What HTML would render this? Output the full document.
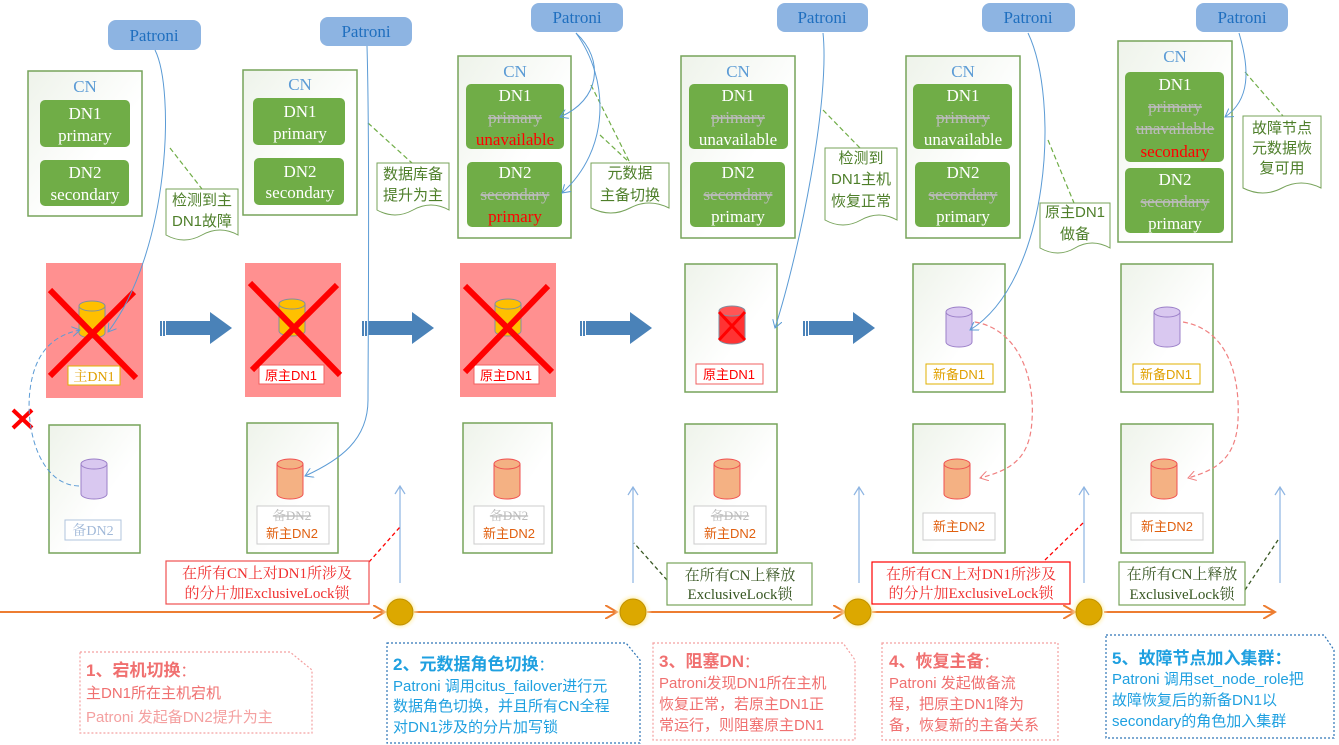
<!DOCTYPE html>
<html><head><meta charset="utf-8"><style>
body{margin:0;background:#fff}
svg{display:block}
.s{font-family:"Liberation Serif","Noto Serif CJK SC",serif}
.c{font-family:"Liberation Sans","Noto Sans CJK SC",sans-serif}
</style></head><body>
<svg width="1339" height="745" viewBox="0 0 1339 745" xmlns="http://www.w3.org/2000/svg">
<defs>
<linearGradient id="gb" x1="0" y1="0" x2="1" y2="1"><stop offset="0" stop-color="#eef3ea"/><stop offset="0.6" stop-color="#fff"/></linearGradient>
<marker id="ab" markerWidth="10" markerHeight="10" refX="8" refY="5" orient="auto" markerUnits="userSpaceOnUse"><path d="M0,0 L8,5 L0,10" fill="none" stroke="#5b9bd5" stroke-width="1"/></marker>
<marker id="ar" markerWidth="10" markerHeight="10" refX="8" refY="5" orient="auto" markerUnits="userSpaceOnUse"><path d="M0,0 L8,5 L0,10" fill="none" stroke="#f08080" stroke-width="1"/></marker>
<marker id="ao" markerWidth="14" markerHeight="14" refX="12" refY="7" orient="auto" markerUnits="userSpaceOnUse"><path d="M0,0 L12,7 L0,14" fill="none" stroke="#ed7d31" stroke-width="2"/></marker>
<radialGradient id="glow"><stop offset="0.6" stop-color="#ffe680"/><stop offset="1" stop-color="#fff" stop-opacity="0"/></radialGradient>
</defs>

<g class="s" font-size="17" fill="#1f6fbf" text-anchor="middle">
<rect x="108" y="20" width="93" height="30" rx="8" fill="#8db4e2"/><text x="154" y="41">Patroni</text>
<rect x="320" y="17" width="92" height="29" rx="8" fill="#8db4e2"/><text x="366" y="37">Patroni</text>
<rect x="531" y="3" width="92" height="29" rx="8" fill="#8db4e2"/><text x="577" y="23">Patroni</text>
<rect x="777" y="3" width="91" height="29" rx="8" fill="#8db4e2"/><text x="822" y="23">Patroni</text>
<rect x="982" y="3" width="93" height="29" rx="8" fill="#8db4e2"/><text x="1028" y="23">Patroni</text>
<rect x="1196" y="3" width="92" height="29" rx="8" fill="#8db4e2"/><text x="1242" y="23">Patroni</text>
</g>

<g fill="url(#gb)" stroke="#77a35a" stroke-width="1.5">
<rect x="28" y="71" width="114" height="145"/>
<rect x="243" y="70" width="114" height="145"/>
<rect x="458" y="56" width="113" height="182"/>
<rect x="681" y="56" width="114" height="182"/>
<rect x="906" y="56" width="114" height="182"/>
<rect x="1118" y="41" width="114" height="201"/>
</g>
<g fill="#70ad47">
<rect x="40" y="100" width="90" height="47" rx="5"/><rect x="40" y="160" width="89" height="46" rx="5"/>
<rect x="253" y="98" width="92" height="47" rx="5"/><rect x="254" y="158" width="90" height="47" rx="5"/>
<rect x="466" y="84" width="98" height="65" rx="5"/><rect x="467" y="162" width="95" height="65" rx="5"/>
<rect x="689" y="84" width="99" height="65" rx="5"/><rect x="690" y="162" width="95" height="65" rx="5"/>
<rect x="913" y="84" width="99" height="65" rx="5"/><rect x="915" y="162" width="95" height="65" rx="5"/>
<rect x="1125" y="72" width="99" height="90" rx="5"/><rect x="1125" y="168" width="99" height="65" rx="5"/>
</g>
<g class="s" font-size="17" text-anchor="middle" fill="#fff">
<text x="85" y="92" fill="#5b9bd5">CN</text><text x="85" y="119">DN1</text><text x="85" y="141">primary</text><text x="85" y="178">DN2</text><text x="85" y="200">secondary</text>
<text x="300" y="90" fill="#5b9bd5">CN</text><text x="300" y="117">DN1</text><text x="300" y="139">primary</text><text x="300" y="177">DN2</text><text x="300" y="198">secondary</text>
<text x="515" y="77" fill="#5b9bd5">CN</text><text x="515" y="101">DN1</text><text x="515" y="123" fill="#bbb" text-decoration="line-through">primary</text><text x="515" y="145" fill="#f00">unavailable</text>
<text x="515" y="178">DN2</text><text x="515" y="200" fill="#bbb" text-decoration="line-through">secondary</text><text x="515" y="222" fill="#f00">primary</text>
<text x="738" y="77" fill="#5b9bd5">CN</text><text x="738" y="101">DN1</text><text x="738" y="123" fill="#bbb" text-decoration="line-through">primary</text><text x="738" y="145">unavailable</text>
<text x="738" y="178">DN2</text><text x="738" y="200" fill="#bbb" text-decoration="line-through">secondary</text><text x="738" y="222">primary</text>
<text x="963" y="77" fill="#5b9bd5">CN</text><text x="963" y="101">DN1</text><text x="963" y="123" fill="#bbb" text-decoration="line-through">primary</text><text x="963" y="145">unavailable</text>
<text x="963" y="178">DN2</text><text x="963" y="200" fill="#bbb" text-decoration="line-through">secondary</text><text x="963" y="222">primary</text>
<text x="1175" y="62" fill="#5b9bd5">CN</text><text x="1175" y="90">DN1</text><text x="1175" y="112" fill="#bbb" text-decoration="line-through">primary</text><text x="1175" y="134" fill="#bbb" text-decoration="line-through">unavailable</text><text x="1175" y="157" fill="#f00">secondary</text>
<text x="1175" y="185">DN2</text><text x="1175" y="207" fill="#bbb" text-decoration="line-through">secondary</text><text x="1175" y="229">primary</text>
</g>

<g stroke="#70ad47" stroke-width="1.2" stroke-dasharray="5,3" fill="none">
<path d="M170 148 L202 189"/><path d="M368 123 L412 163"/><path d="M591 85 L630 163 M600 135 L630 163"/>
<path d="M823 110 L860 148"/><path d="M1048 140 L1074 203"/><path d="M1245 72 L1283 116"/>
</g>
<g fill="#fff" stroke="#77a35a" stroke-width="1">
<path d="M166 189 h72 v46 q-18 -10 -36 0 t-36 0 z"/>
<path d="M377 163 h72 v47 q-18 -10 -36 0 t-36 0 z"/>
<path d="M591 163 h78 v45 q-20 -10 -39 0 t-39 0 z"/>
<path d="M825 148 h72 v72 q-18 -10 -36 0 t-36 0 z"/>
<path d="M1040 203 h70 v45 q-18 -10 -35 0 t-35 0 z"/>
<path d="M1243 116 h78 v72 q-20 -10 -39 0 t-39 0 z"/>
</g>
<g class="c" font-size="15" fill="#4e7f2a" text-anchor="middle">
<text x="202" y="205">检测到主</text><text x="202" y="226">DN1故障</text>
<text x="413" y="179">数据库备</text><text x="413" y="200">提升为主</text>
<text x="630" y="178">元数据</text><text x="630" y="200">主备切换</text>
<text x="861" y="163">检测到</text><text x="861" y="184">DN1主机</text><text x="861" y="206">恢复正常</text>
<text x="1075" y="217">原主DN1</text><text x="1075" y="239">做备</text>
<text x="1282" y="133">故障节点</text><text x="1282" y="153">元数据恢</text><text x="1282" y="173">复可用</text>
</g>

<g>
<rect x="46" y="263" width="97" height="135" fill="#ff9090"/>
<rect x="245" y="263" width="96" height="134" fill="#ff9090"/>
<rect x="460" y="263" width="96" height="134" fill="#ff9090"/>
</g>
<g fill="url(#gb)" stroke="#77a35a" stroke-width="1.5">
<rect x="685" y="264" width="92" height="128"/><rect x="913" y="264" width="92" height="128"/><rect x="1121" y="264" width="92" height="128"/>
<rect x="49" y="425" width="91" height="128"/><rect x="247" y="423" width="91" height="130"/><rect x="463" y="423" width="89" height="130"/>
<rect x="685" y="424" width="92" height="129"/><rect x="913" y="424" width="92" height="129"/><rect x="1121" y="424" width="92" height="129"/>
</g>

<g stroke-width="1">
<g fill="#ffc000" stroke="#7f8fa0"><path d="M79 306 v27 a13 5 0 0 0 26 0 v-27"/><ellipse cx="92" cy="306" rx="13" ry="5"/></g>
<g fill="#ffc000" stroke="#7f8fa0"><path d="M279 304 v27 a13 5 0 0 0 26 0 v-27"/><ellipse cx="292" cy="304" rx="13" ry="5"/></g>
<g fill="#ffc000" stroke="#7f8fa0"><path d="M495 304 v27 a13 5 0 0 0 26 0 v-27"/><ellipse cx="508" cy="304" rx="13" ry="5"/></g>
<g fill="#f33" stroke="#7f8fa0"><path d="M719 311 v28 a13 5 0 0 0 26 0 v-28"/><ellipse cx="732" cy="311" rx="13" ry="5" fill="#f55"/></g>
<g fill="#d9c8f0" stroke="#9b7fc8"><path d="M946 312 v30 a13 5 0 0 0 26 0 v-30"/><ellipse cx="959" cy="312" rx="13" ry="5"/></g>
<g fill="#d9c8f0" stroke="#9b7fc8"><path d="M1154 312 v30 a13 5 0 0 0 26 0 v-30"/><ellipse cx="1167" cy="312" rx="13" ry="5"/></g>
<g fill="#d9c8f0" stroke="#9b7fc8"><path d="M81 464 v30 a13 5 0 0 0 26 0 v-30"/><ellipse cx="94" cy="464" rx="13" ry="5"/></g>
<g fill="#f4b183" stroke="#f05050"><path d="M277 464 v30 a13 5 0 0 0 26 0 v-30"/><ellipse cx="290" cy="464" rx="13" ry="5"/></g>
<g fill="#f4b183" stroke="#f05050"><path d="M494 464 v30 a13 5 0 0 0 26 0 v-30"/><ellipse cx="507" cy="464" rx="13" ry="5"/></g>
<g fill="#f4b183" stroke="#f05050"><path d="M714 464 v30 a13 5 0 0 0 26 0 v-30"/><ellipse cx="727" cy="464" rx="13" ry="5"/></g>
<g fill="#f4b183" stroke="#f05050"><path d="M944 464 v30 a13 5 0 0 0 26 0 v-30"/><ellipse cx="957" cy="464" rx="13" ry="5"/></g>
<g fill="#f4b183" stroke="#f05050"><path d="M1151 464 v30 a13 5 0 0 0 26 0 v-30"/><ellipse cx="1164" cy="464" rx="13" ry="5"/></g>
</g>

<g class="s" font-size="14" text-anchor="middle">
<rect x="68" y="366" width="52" height="19" fill="#fff" stroke="#e0b000"/><text x="94" y="381" fill="#e0a000">主DN1</text>
<rect x="259" y="365" width="65" height="19" fill="#fff" stroke="#f06060"/><text x="291" y="380" fill="#f00" font-size="13" class="c">原主DN1</text>
<rect x="474" y="365" width="65" height="19" fill="#fff" stroke="#f06060"/><text x="506" y="380" fill="#f00" font-size="13" class="c">原主DN1</text>
<rect x="696" y="364" width="67" height="20" fill="#fff" stroke="#f06060"/><text x="729" y="379" fill="#f00" font-size="13" class="c">原主DN1</text>
<rect x="926" y="364" width="67" height="20" fill="#fff" stroke="#e0b000"/><text x="959" y="379" fill="#e0a000" font-size="13" class="c">新备DN1</text>
<rect x="1133" y="364" width="67" height="20" fill="#fff" stroke="#e0b000"/><text x="1166" y="379" fill="#e0a000" font-size="13" class="c">新备DN1</text>
<rect x="65" y="520" width="56" height="20" fill="#fff" stroke="#b0c4de"/><text x="93" y="535" fill="#a0b8d8">备DN2</text>
<rect x="257" y="506" width="72" height="38" fill="#fff" stroke="#ccc"/><text x="292" y="520" fill="#bbb" font-size="13" text-decoration="line-through">备DN2</text><text x="292" y="538" fill="#e06010" font-size="13" class="c">新主DN2</text>
<rect x="474" y="506" width="70" height="38" fill="#fff" stroke="#ccc"/><text x="509" y="520" fill="#bbb" font-size="13" text-decoration="line-through">备DN2</text><text x="509" y="538" fill="#e06010" font-size="13" class="c">新主DN2</text>
<rect x="694" y="506" width="72" height="38" fill="#fff" stroke="#ccc"/><text x="730" y="520" fill="#bbb" font-size="13" text-decoration="line-through">备DN2</text><text x="730" y="538" fill="#e06010" font-size="13" class="c">新主DN2</text>
<rect x="923" y="513" width="72" height="27" fill="#fff" stroke="#ccc"/><text x="959" y="531" fill="#e06010" font-size="13" class="c">新主DN2</text>
<rect x="1131" y="513" width="72" height="27" fill="#fff" stroke="#ccc"/><text x="1167" y="531" fill="#e06010" font-size="13" class="c">新主DN2</text>
</g>

<g stroke="#f00" stroke-width="6">
<path d="M50 290 L136 378 M134 292 L50 376"/>
<path d="M250 283 L340 375 M337 285 L252 370"/>
<path d="M465 286 L552 372 M548 286 L465 372"/>
</g>
<path d="M719 312 L745 340 M745 312 L719 340" stroke="#f00" stroke-width="3"/>
<path d="M13 410 L32 428 M32 410 L13 428" stroke="#f00" stroke-width="4"/>

<g fill="#4a82b8">
<path d="M166 321 h44 v-9 l22 16 l-22 16 v-9 h-44 z"/><rect x="160" y="321" width="2" height="15"/><rect x="163" y="321" width="2" height="15"/>
<path d="M368 321 h44 v-9 l22 16 l-22 16 v-9 h-44 z"/><rect x="362" y="321" width="2" height="15"/><rect x="365" y="321" width="2" height="15"/>
<path d="M586 321 h44 v-9 l22 16 l-22 16 v-9 h-44 z"/><rect x="580" y="321" width="2" height="15"/><rect x="583" y="321" width="2" height="15"/>
<path d="M809 321 h44 v-9 l22 16 l-22 16 v-9 h-44 z"/><rect x="803" y="321" width="2" height="15"/><rect x="806" y="321" width="2" height="15"/>
</g>

<g fill="none" stroke="#5b9bd5" stroke-width="1" marker-end="url(#ab)">
<path d="M155 50 C175 90 170 250 108 332"/>
<path d="M367 46 C370 150 368 350 368 400 C368 440 340 460 305 476"/>
<path d="M576 33 C605 60 600 100 560 117"/>
<path d="M576 33 C610 80 610 150 562 193"/>
<path d="M823 33 C830 100 800 250 775 328"/>
<path d="M1028 33 C1060 100 1050 280 970 330"/>
<path d="M1239 33 C1250 70 1250 100 1225 117"/>
</g>
<path d="M79 486 C40 485 25 430 30 390 C35 350 55 335 80 330" fill="none" stroke="#5b9bd5" stroke-dasharray="5,3" marker-end="url(#ab)"/>
<g fill="none" stroke="#f08080" stroke-width="1.2" stroke-dasharray="5,3" marker-end="url(#ar)">
<path d="M975 322 C1020 330 1035 380 1032 420 C1030 460 1010 470 980 478"/>
<path d="M1183 322 C1230 330 1240 380 1238 420 C1236 460 1215 470 1188 478"/>
</g>

<g stroke="#8db4e2" stroke-width="1.2" fill="none">
<path d="M400 583 V486 M395 494 L400 486 L405 494"/>
<path d="M633 583 V487 M628 495 L633 487 L638 495"/>
<path d="M859 583 V487 M854 495 L859 487 L864 495"/>
<path d="M1084 583 V487 M1079 495 L1084 487 L1089 495"/>
<path d="M1280 583 V487 M1275 495 L1280 487 L1285 495"/>
</g>
<g stroke-width="1.3" stroke-dasharray="4,3" fill="none">
<path d="M369 562 L400 527" stroke="#f00"/>
<path d="M667 580 L634 543" stroke="#385723"/>
<path d="M1045 560 L1083 523" stroke="#f00"/>
<path d="M1245 590 L1278 540" stroke="#385723"/>
</g>

<g stroke="#ed7d31" stroke-width="2" fill="none" marker-end="url(#ao)">
<path d="M0 612 H385"/><path d="M414 612 H617"/><path d="M647 612 H845"/><path d="M872 612 H1075"/><path d="M1104 612 H1275"/>
</g>
<g>
<circle cx="400" cy="612" r="19" fill="url(#glow)"/><circle cx="400" cy="612" r="13" fill="#dca800" stroke="#bf9000"/>
<circle cx="633" cy="612" r="19" fill="url(#glow)"/><circle cx="633" cy="612" r="13" fill="#dca800" stroke="#bf9000"/>
<circle cx="858" cy="612" r="19" fill="url(#glow)"/><circle cx="858" cy="612" r="13" fill="#dca800" stroke="#bf9000"/>
<circle cx="1089" cy="612" r="19" fill="url(#glow)"/><circle cx="1089" cy="612" r="13" fill="#dca800" stroke="#bf9000"/>
</g>

<g class="s" font-size="15" text-anchor="middle">
<rect x="166" y="561" width="203" height="43" fill="#fff" stroke="#f05050" stroke-width="1.2"/>
<text x="267" y="578" fill="#f03030">在所有CN上对DN1所涉及</text><text x="267" y="598" fill="#f03030">的分片加ExclusiveLock锁</text>
<rect x="667" y="563" width="145" height="42" fill="#fff" stroke="#77a35a" stroke-width="1.2"/>
<text x="740" y="580" fill="#385723">在所有CN上释放</text><text x="740" y="599" fill="#385723">ExclusiveLock锁</text>
<rect x="872" y="562" width="198" height="42" fill="#fff" stroke="#f00" stroke-width="1.2"/>
<text x="971" y="579" fill="#f03030">在所有CN上对DN1所涉及</text><text x="971" y="598" fill="#f03030">的分片加ExclusiveLock锁</text>
<rect x="1119" y="562" width="126" height="43" fill="#fff" stroke="#77a35a" stroke-width="1.2"/>
<text x="1182" y="579" fill="#385723">在所有CN上释放</text><text x="1182" y="599" fill="#385723">ExclusiveLock锁</text>
</g>

<g fill="#fff" stroke-width="1.2" stroke-dasharray="2,2">
<path d="M80 652 H290 L312 670 V733 H80 Z" stroke="#f4a0a0"/>
<path d="M387 643 H626 L640 660 V743 H387 Z" stroke="#2e75b6"/>
<path d="M653 643 H843 L855 660 V740 H653 Z" stroke="#f4a0a0"/>
<path d="M882 643 H1058 V740 H882 Z" stroke="#f4a0a0"/>
<path d="M1106 635 H1324 L1334 650 V738 H1106 Z" stroke="#2e75b6"/>
</g>
<g class="c" font-size="15">
<text x="86" y="676" fill="#f07070" font-size="17" font-weight="bold">1、宕机切换<tspan font-weight="normal" font-size="15">：</tspan></text>
<text x="86" y="698" fill="#f07070">主DN1所在主机宕机</text>
<text x="86" y="722" fill="#f4a0a0">Patroni  发起备DN2提升为主</text>
<text x="393" y="670" fill="#1fa0e0" font-size="17" font-weight="bold">2、元数据角色切换<tspan font-weight="normal" font-size="15">：</tspan></text>
<text x="393" y="691" fill="#1fa0e0">Patroni 调用citus_failover进行元</text>
<text x="393" y="711" fill="#1fa0e0">数据角色切换，并且所有CN全程</text>
<text x="393" y="732" fill="#1fa0e0">对DN1涉及的分片加写锁</text>
<text x="659" y="667" fill="#f07070" font-size="17" font-weight="bold">3、阻塞DN<tspan font-weight="normal" font-size="15">：</tspan></text>
<text x="659" y="688" fill="#f07070">Patroni发现DN1所在主机</text>
<text x="659" y="709" fill="#f07070">恢复正常，若原主DN1正</text>
<text x="659" y="730" fill="#f07070">常运行，则阻塞原主DN1</text>
<text x="889" y="667" fill="#f07070" font-size="17" font-weight="bold">4、恢复主备<tspan font-weight="normal" font-size="15">：</tspan></text>
<text x="889" y="688" fill="#f07070">Patroni 发起做备流</text>
<text x="889" y="709" fill="#f07070">程，把原主DN1降为</text>
<text x="889" y="730" fill="#f07070">备，恢复新的主备关系</text>
<text x="1112" y="664" fill="#1fa0e0" font-size="17" font-weight="bold">5、故障节点加入集群：</text>
<text x="1112" y="684" fill="#1fa0e0">Patroni 调用set_node_role把</text>
<text x="1112" y="705" fill="#1fa0e0">故障恢复后的新备DN1以</text>
<text x="1112" y="726" fill="#1fa0e0">secondary的角色加入集群</text>
</g>
</svg>
</body></html>
